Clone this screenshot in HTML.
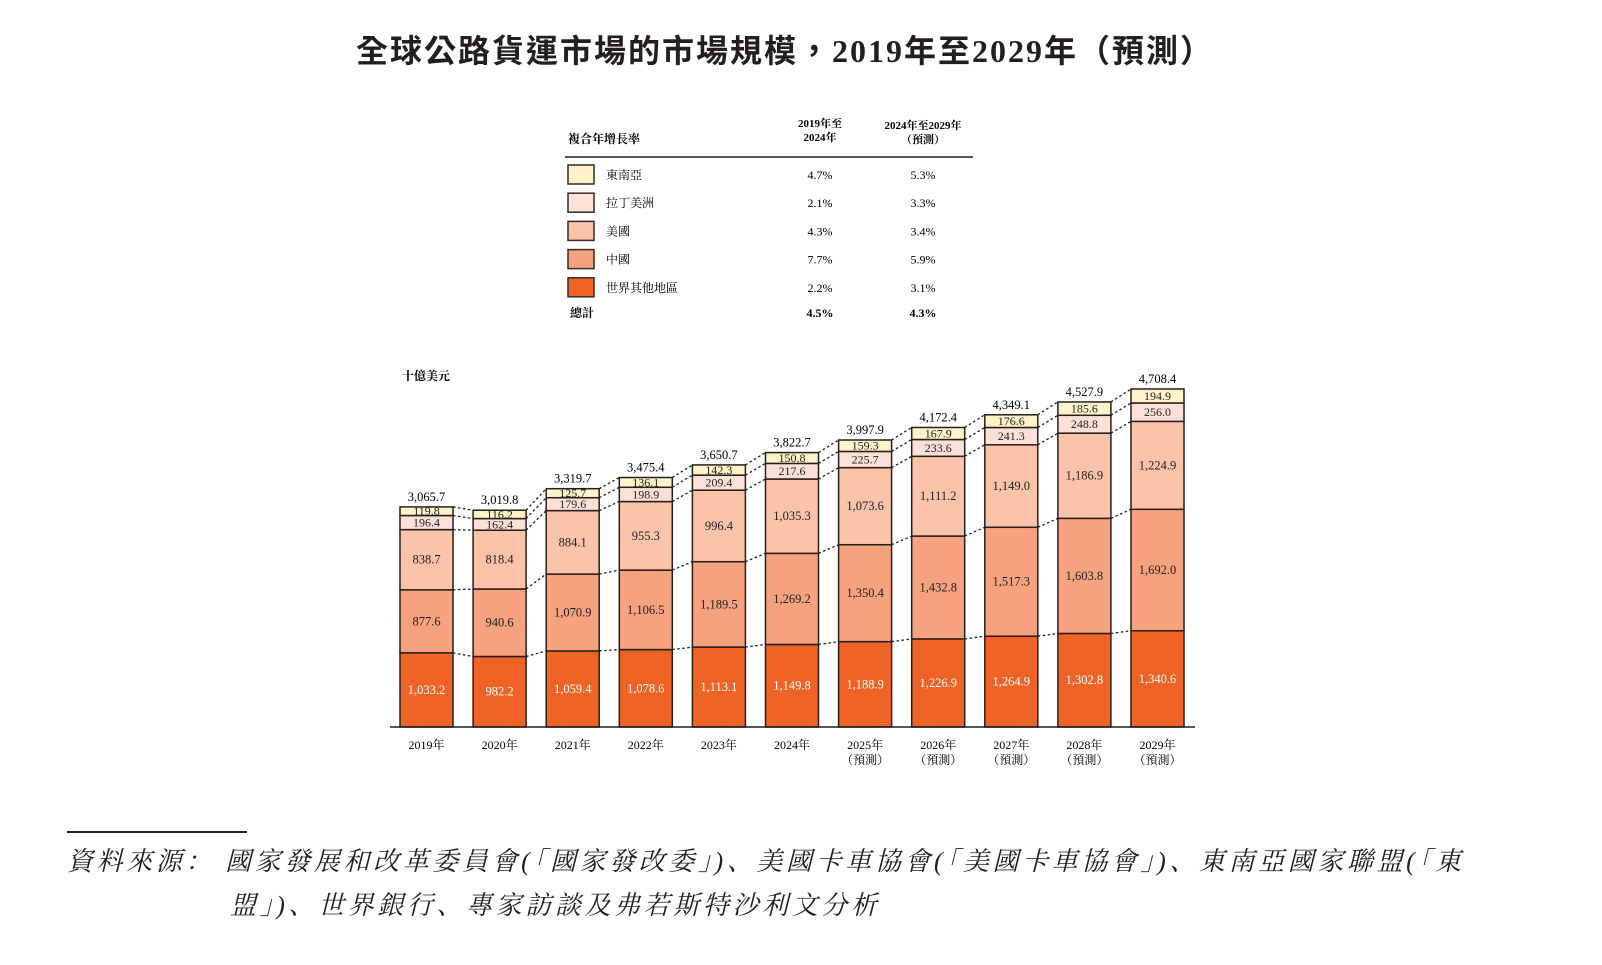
<!DOCTYPE html>
<html><head><meta charset="utf-8">
<style>
html,body{margin:0;padding:0;background:#fff;}
body{width:1602px;height:965px;overflow:hidden;position:relative;font-family:"Liberation Serif","Noto Serif CJK SC",serif;color:#231f20;}
#title{position:absolute;left:0;width:1570px;top:26px;text-align:center;font-size:32px;font-weight:bold;font-family:"Liberation Serif","Noto Sans CJK TC",serif;letter-spacing:2px;}
#src{position:absolute;left:67px;top:840px;font-size:26px;font-style:italic;line-height:44px;letter-spacing:3.6px;white-space:nowrap;font-family:"Liberation Serif","Noto Serif CJK SC",serif;}
#srcline{position:absolute;left:67px;top:831px;width:180px;height:2px;background:#231f20;}
</style></head>
<body>
<div id="title">全球公路貨運市場的市場規模，2019年至2029年（預測）</div>
<svg id="chart" width="1602" height="965" style="position:absolute;left:0;top:0"></svg>
<div id="srcline"></div>
<div id="src">資料來源：&nbsp;國家發展和改革委員會(「國家發改委」)、美國卡車協會(「美國卡車協會」)、東南亞國家聯盟(「東<br><span style="padding-left:163px">盟」)、世界銀行、專家訪談及弗若斯特沙利文分析</span></div>
<script>
const categories=["2019年","2020年","2021年","2022年","2023年","2024年","2025年","2026年","2027年","2028年","2029年"];
const forecast=[false,false,false,false,false,false,true,true,true,true,true];
const rest=[1033.2,982.2,1059.4,1078.6,1113.1,1149.8,1188.9,1226.9,1264.9,1302.8,1340.6];
const china=[877.6,940.6,1070.9,1106.5,1189.5,1269.2,1350.4,1432.8,1517.3,1603.8,1692.0];
const usa=[838.7,818.4,884.1,955.3,996.4,1035.3,1073.6,1111.2,1149.0,1186.9,1224.9];
const latam=[196.4,162.4,179.6,198.9,209.4,217.6,225.7,233.6,241.3,248.8,256.0];
const sea=[119.8,116.2,125.7,136.1,142.3,150.8,159.3,167.9,176.6,185.6,194.9];
const totals=[3065.7,3019.8,3319.7,3475.4,3650.7,3822.7,3997.9,4172.4,4349.1,4527.9,4708.4];
const legendNames=["東南亞","拉丁美洲","美國","中國","世界其他地區"];
const cagr1=["4.7%","2.1%","4.3%","7.7%","2.2%"];
const cagr2=["5.3%","3.3%","3.4%","5.9%","3.1%"];
const totalCagr=["4.5%","4.3%"];

const NS="http://www.w3.org/2000/svg";
const svg=document.getElementById('chart');
function mk(tag,attrs,parent){const e=document.createElementNS(NS,tag);for(const k in attrs)e.setAttribute(k,attrs[k]);(parent||svg).appendChild(e);return e;}
function txt(s,x,y,attrs){const t=mk('text',Object.assign({x:x,y:y},attrs||{}));t.textContent=s;return t;}
const fmt=v=>v.toLocaleString('en-US',{minimumFractionDigits:1,maximumFractionDigits:1});
const colors=["#ef6426","#f6a27e","#fbc3aa","#fde1d9","#fff4c9"];
const legendColors=["#fff4c9","#fde1d9","#fbc3aa","#f6a27e","#ef6426"];
const series=[rest,china,usa,latam,sea];
const segNames=['rest-of-world','china','usa','latin-america','southeast-asia'];
const baseY=727, pxPer=338/4708.4, x0=400, step=73.1, bw=53;
const yS=v=>baseY-v*pxPer;
const xS=i=>x0+i*step;
const FF='"Liberation Serif","Noto Serif CJK SC",serif';

// legend
txt('複合年增長率',568,143,{'font-weight':'bold','font-size':12,'font-family':FF});
txt('2019年至',820,127,{'text-anchor':'middle','font-weight':'bold','font-size':11,'font-family':FF});
txt('2024年',820,141,{'text-anchor':'middle','font-weight':'bold','font-size':11,'font-family':FF});
txt('2024年至2029年',923,129,{'text-anchor':'middle','font-weight':'bold','font-size':11,'font-family':FF});
txt('（預測）',923,143,{'text-anchor':'middle','font-weight':'bold','font-size':11,'font-family':FF});
mk('line',{x1:565,x2:973,y1:157,y2:157,stroke:'#231f20','stroke-width':1.5});
for(let k=0;k<5;k++){
  const y=165+k*28.2;
  const r=mk('rect',{x:568,y:y,width:26,height:19,fill:legendColors[k],stroke:'#3a2a25','stroke-width':1.5});
  
  
  const t=txt(legendNames[k],606,y+14,{'font-size':12,'font-family':FF});
  
  
  txt(cagr1[k],820,y+14,{'text-anchor':'middle','font-size':12,'font-family':FF});
  txt(cagr2[k],923,y+14,{'text-anchor':'middle','font-size':12,'font-family':FF});
}
txt('總計',570,317,{'font-weight':'bold','font-size':12,'font-family':FF});
txt(totalCagr[0],820,317,{'text-anchor':'middle','font-weight':'bold','font-size':12,'font-family':FF});
txt(totalCagr[1],923,317,{'text-anchor':'middle','font-weight':'bold','font-size':12,'font-family':FF});

// unit label
const u=txt('十億美元',402,380,{'font-size':12,'font-weight':'bold','font-family':FF});



// bars
const bounds=[];
for(let i=0;i<categories.length;i++){
  let cum=0; const b=[0];
  for(let s=0;s<series.length;s++){
    const v=series[s][i];
    const y1=yS(cum+v), y0=yS(cum);
    const r=mk('rect',{x:xS(i),y:y1,width:bw,height:y0-y1,fill:colors[s],stroke:'#2b1d18','stroke-width':1.5});
    
    
    const cy=(y0+y1)/2+4;
    const t=txt(fmt(v),xS(i)+bw/2,cy,{'text-anchor':'middle','font-size':s>=3?12:12.5,'font-family':FF,fill:s===0?'#fff':'#231f20'});
    
    
    cum+=v; b.push(cum);
  }
  bounds.push(b);
  const tt=txt(fmt(totals[i]),xS(i)+bw/2,yS(cum)-6,{'text-anchor':'middle','font-size':12.5,'font-family':FF});
  
  
  const xl=txt(categories[i],xS(i)+bw/2,749,{'text-anchor':'middle','font-size':12,'font-family':FF});
  
  
  if(forecast[i]) txt('（預測）',xS(i)+bw/2,764,{'text-anchor':'middle','font-size':12,'font-family':FF});
}
// connectors
for(let i=0;i<categories.length-1;i++){
  for(let k=1;k<bounds[i].length;k++){
    const l=mk('line',{x1:xS(i)+bw,y1:yS(bounds[i][k]),x2:xS(i+1),y2:yS(bounds[i+1][k]),stroke:'#231f20','stroke-width':1.3,'stroke-dasharray':'2.5,2.5'});
    
    
  }
}
const ax=mk('line',{x1:390,x2:1195,y1:baseY,y2:baseY,stroke:'#231f20','stroke-width':1.5});


</script>
</body></html>
